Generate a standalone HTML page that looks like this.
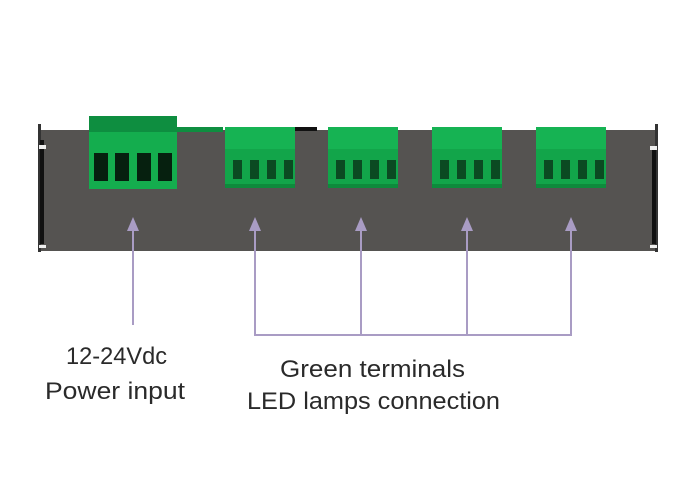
<!DOCTYPE html>
<html><head><style>html,body{margin:0;padding:0;background:#fff;}svg{display:block}</style></head>
<body>
<svg width="700" height="500" viewBox="0 0 700 500" xmlns="http://www.w3.org/2000/svg">
<defs>
<g id="term">
<rect x="0" y="0" width="70" height="61" fill="#12a54a"/>
<rect x="0" y="0" width="70" height="22" fill="#16b353"/>
<rect x="0" y="57" width="70" height="4" fill="#0e8a3c"/>
<rect x="8" y="33" width="9" height="19" fill="#0b4a22"/>
<rect x="25" y="33" width="9" height="19" fill="#0b4a22"/>
<rect x="42" y="33" width="9" height="19" fill="#0b4a22"/>
<rect x="59" y="33" width="9" height="19" fill="#0b4a22"/>
</g>
<marker id="ah" markerWidth="10" markerHeight="10" refX="5" refY="1" orient="auto" markerUnits="userSpaceOnUse"></marker>
</defs>
<!-- panel -->
<rect x="38" y="130" width="620" height="121" fill="#555351"/>
<rect x="38" y="124" width="3" height="128" fill="#333"/>
<rect x="40" y="140" width="4" height="104" fill="#111"/>
<rect x="39" y="145" width="7" height="4" fill="#eee"/>
<rect x="39" y="245" width="7" height="3" fill="#eee"/>
<rect x="655" y="124" width="3" height="128" fill="#333"/>
<rect x="652" y="148" width="4" height="96" fill="#111"/>
<rect x="650" y="146" width="7" height="4" fill="#eee"/>
<rect x="650" y="245" width="7" height="3" fill="#eee"/>
<!-- power terminal -->
<rect x="89" y="116" width="88" height="18" fill="#0e8e40"/>
<rect x="89" y="132" width="88" height="57" fill="#14ad4e"/>
<rect x="94" y="153" width="14" height="28" fill="#06200f"/>
<rect x="115" y="153" width="14" height="28" fill="#06200f"/>
<rect x="137" y="153" width="14" height="28" fill="#06200f"/>
<rect x="158" y="153" width="14" height="28" fill="#06200f"/>
<rect x="177" y="127" width="46" height="5" fill="#0e8e40"/>
<rect x="295" y="127" width="22" height="4" fill="#111"/>
<use href="#term" x="225" y="127"/>
<use href="#term" x="328" y="127"/>
<use href="#term" x="432" y="127"/>
<use href="#term" x="536" y="127"/>
<!-- arrows -->
<g stroke="#a99cc4" stroke-width="2" fill="none">
<line x1="133" y1="228" x2="133" y2="325"/>
<polyline points="255,228 255,335 571,335 571,228"/>
<line x1="361" y1="228" x2="361" y2="335"/>
<line x1="467" y1="228" x2="467" y2="335"/>
</g>
<g fill="#a99cc4">
<polygon points="133,217 127,231 139,231"/>
<polygon points="255,217 249,231 261,231"/>
<polygon points="361,217 355,231 367,231"/>
<polygon points="467,217 461,231 473,231"/>
<polygon points="571,217 565,231 577,231"/>
</g>
<g font-family="Liberation Sans, sans-serif" font-size="24" fill="#2a2a2a">
<text x="66" y="364" textLength="101" lengthAdjust="spacingAndGlyphs">12-24Vdc</text>
<text x="45" y="399" textLength="140" lengthAdjust="spacingAndGlyphs">Power input</text>
<text x="280" y="377" textLength="185" lengthAdjust="spacingAndGlyphs">Green terminals</text>
<text x="247" y="409" textLength="253" lengthAdjust="spacingAndGlyphs">LED lamps connection</text>
</g>
</svg>
</body></html>
